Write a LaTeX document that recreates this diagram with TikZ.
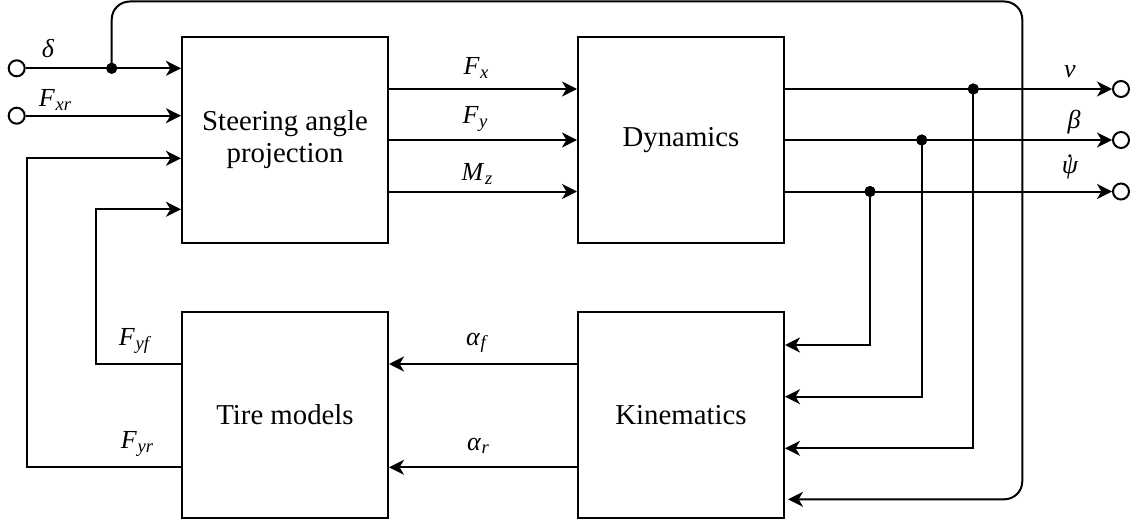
\documentclass[tikz,border=0pt]{standalone}
\usepackage{fontspec}
\setmainfont{Liberation Serif}
\usetikzlibrary{arrows.meta,calc}
\newcommand\sublbl[2]{\textit{#1}\kern0.02em\raisebox{-0.3ex}{\fontsize{9.3}{10}\selectfont\textit{#2}}}
\newcommand\dotpsi{\makebox[0pt][l]{\hspace{0.22em}\raisebox{0.6em}{\textit{.}}}\textit{ψ}}
\begin{document}
\begin{tikzpicture}[x=0.5pt,y=-0.5pt,line width=1pt,
  block/.style={draw,minimum width=103pt,minimum height=103pt,inner sep=0pt,align=center,font=\fontsize{14.4}{16}\selectfont},
  arr/.style={-{Stealth[length=7.5pt,width=7.5pt,inset=2.2pt]}},
  port/.style={draw,circle,minimum size=8pt,inner sep=0pt,fill=white},
  jdot/.style={circle,fill,minimum size=5.5pt,inner sep=0pt},
  lab/.style={font=\fontsize{13}{14}\selectfont,inner sep=0pt}]
\useasboundingbox (0,0) rectangle (1146,524);

% blocks
\node[block] (steer) at (285,140) {Steering angle\\projection};
\node[block] (dyn) at (681,140) {Dynamics};
\node[block] (tire) at (285,415) {Tire models};
\node[block] (kin) at (681,415) {Kinematics};

% row / column helpers
\coordinate (rA) at (0,68.3);
\coordinate (rB) at (0,115.7);
\coordinate (rC) at (0,158.3);
\coordinate (rD) at (0,209.3);
\coordinate (d1) at (0,89);
\coordinate (d2) at (0,140);
\coordinate (d3) at (0,191.5);
\coordinate (t1) at (0,364);
\coordinate (t2) at (0,467.3);
\coordinate (k1) at (0,345);
\coordinate (k2) at (0,396.7);
\coordinate (k3) at (0,448.3);
\coordinate (k4) at (788,499.3);
\coordinate (cF) at (96,0);
\coordinate (cR) at (27.3,0);
\coordinate (top) at (1022.3,1.5);

% ports
\node[port] (pd) at (16.7,68.3) {};
\node[port] (px) at (16.7,115.7) {};
\node[port] (pv) at (1121,89) {};
\node[port] (pb) at (1121,140) {};
\node[port] (pp) at (1121,191.5) {};

% junction dots
\node[jdot] (jd) at (111.7,68.3) {};
\node[jdot] (jv) at (973.3,89) {};
\node[jdot] (jb) at (921.7,140) {};
\node[jdot] (jp) at (870,191.5) {};

% inputs
\draw[arr] (pd) -- (steer.west |- rA);
\draw[arr] (px) -- (steer.west |- rB);
\draw[rounded corners=9pt,arr] (jd.center) |- (top) |- (k4);

% steering -> dynamics
\draw[arr] (steer.east |- d1) -- (dyn.west |- d1);
\draw[arr] (steer.east |- d2) -- (dyn.west |- d2);
\draw[arr] (steer.east |- d3) -- (dyn.west |- d3);

% outputs
\draw[arr] (dyn.east |- d1) -- (pv);
\draw[arr] (dyn.east |- d2) -- (pb);
\draw[arr] (dyn.east |- d3) -- (pp);

% feedback to kinematics
\draw[arr] (jp.center) |- (kin.east |- k1);
\draw[arr] (jb.center) |- (kin.east |- k2);
\draw[arr] (jv.center) |- (kin.east |- k3);

% kinematics -> tire
\draw[arr] (kin.west |- t1) -- (tire.east |- t1);
\draw[arr] (kin.west |- t2) -- (tire.east |- t2);

% tire -> steering
\draw[arr] (tire.west |- t1) -| (cF |- rD) -- (steer.west |- rD);
\draw[arr] (tire.west |- t2) -| (cR |- rC) -- (steer.west |- rC);

% redraw dots on top
\node[jdot] at (jd) {};
\node[jdot] at (jv) {};
\node[jdot] at (jb) {};
\node[jdot] at (jp) {};

% labels
\node[lab] (ldelta) at (48,49) {\textit{δ}};
\node[lab] (lfxr) at (55,100) {\sublbl{F}{xr}};
\node[lab] (lfx) at (476,68) {\sublbl{F}{x}};
\node[lab] (lfy) at (475,119) {\sublbl{F}{y}};
\node[lab] (lmz) at (477,174) {\sublbl{M}{z}};
\node[lab] (lv) at (1070,72) {\textit{v}};
\node[lab] (lb) at (1074,122) {\textit{β}};
\node[lab] (lp) at (1070,167) {\dotpsi};
\node[lab] (laf) at (477,343) {\sublbl{α}{f}};
\node[lab] (lar) at (478,446) {\sublbl{α}{r}};
\node[lab] (lfyf) at (135,341) {\sublbl{F}{yf}};
\node[lab] (lfyr) at (137,444) {\sublbl{F}{yr}};
\end{tikzpicture}
\end{document}
